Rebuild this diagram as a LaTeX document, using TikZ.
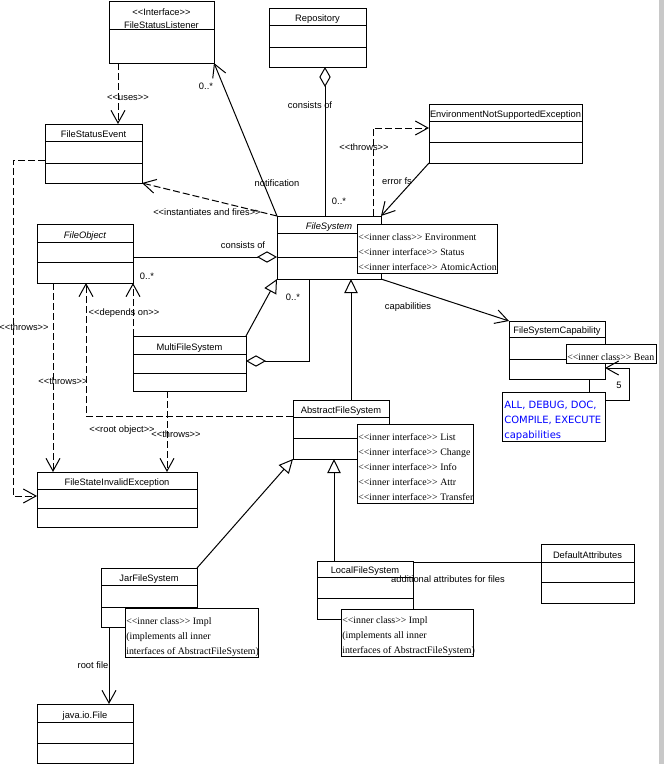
\documentclass[tikz,border=0pt]{standalone}
\usepackage{fontspec}
\newfontfamily\labfont{Liberation Sans}[Ligatures=TeXOff]
\newfontfamily\notefont{Liberation Serif}[Ligatures=TeXOff]
\newfontfamily\capfont{DejaVu Sans}[Ligatures=TeXOff]
\usetikzlibrary{arrows.meta,calc}
\definecolor{strip}{RGB}{200,200,200}
\definecolor{capblue}{RGB}{0,0,255}
\tikzset{
  plain/.style={line width=0.75pt},
  clsbox/.style={draw, fill=white, line width=0.75pt, inner sep=0pt, outer sep=0pt, anchor=north west},
  ctitle/.style={font=\labfont\fontsize{7pt}{8.4pt}\selectfont, inner sep=0pt, anchor=base},
  lbl/.style={font=\labfont\fontsize{7pt}{8.4pt}\selectfont, inner sep=0pt, anchor=base},
  notebox/.style={draw, fill=white, line width=0.75pt, inner sep=0pt, outer sep=0pt, anchor=north west},
  notetext/.style={font=\notefont\fontsize{7.4pt}{11.25pt}\selectfont, inner sep=0pt, anchor=north west, align=left},
  captext/.style={font=\capfont\fontsize{7.5pt}{11.25pt}\selectfont, text=capblue, inner sep=0pt, anchor=north west, align=left},
  assoc/.style={line width=0.75pt, -{Straight Barb[length=9.5pt,width=10.5pt]}},
  dep/.style={assoc, dash pattern=on 5.25pt off 2.25pt},
  gen/.style={line width=0.75pt, -{Triangle[fill=white,length=10.5pt,width=10pt]}},
  agg/.style={line width=0.75pt, {Diamond[fill=white,length=15pt,width=8.5pt]}-},
}
\newcommand\umlclass[8]{%
  \node[clsbox, minimum width={(#4-#2)*0.75pt}, minimum height={(#5-#3)*0.75pt}] (#1) at (#2,#3) {};
  \draw[plain] (#2,#6) -- (#4,#6);
  \draw[plain] (#2,#7) -- (#4,#7);
  \node[ctitle] (#1-t) at ({(#2+#4)/2},{#6-3.3}) {#8};
}
\begin{document}
\begin{tikzpicture}[x=0.75pt,y=-0.75pt]
\fill[white] (0,0) rectangle (664,764);
\useasboundingbox (0,0) rectangle (664,764);
\fill[strip] (659,0) rectangle (664,764);

% ---------- classes ----------
\node[clsbox, minimum width={105*0.75pt}, minimum height={62*0.75pt}] (fsl) at (109,1) {};
\draw[plain] (109,29) -- (214,29);
\node[ctitle] (fsl-s) at (161.5,15.5) {<<Interface>>};
\node[ctitle] (fsl-t) at (161.5,28) {FileStatusListener};

\umlclass{rep}{269}{8}{366}{67}{25}{47}{Repository}
\umlclass{fse}{45}{124}{142}{183}{141}{163}{FileStatusEvent}
\umlclass{ense}{429}{104}{582}{163}{121}{142}{EnvironmentNotSupportedException}
\umlclass{fo}{37}{224}{133}{283}{242}{262}{\itshape FileObject}
\umlclass{fs}{277}{216}{381}{279}{233}{257}{\itshape FileSystem}
\umlclass{mfs}{133}{336}{246}{391}{354}{373}{MultiFileSystem}
\umlclass{fsc}{509}{321}{605}{379}{337}{359}{FileSystemCapability}
\umlclass{afs}{293}{400}{389}{459}{417}{438}{AbstractFileSystem}
\umlclass{fsie}{37}{472}{197}{527}{489}{508}{FileStateInvalidException}
\umlclass{jfs}{101}{568}{197}{627}{585}{607}{JarFileSystem}
\umlclass{lfs}{317}{561}{413}{619}{577}{598}{LocalFileSystem}
\umlclass{da}{541}{544}{634}{603}{562}{582}{DefaultAttributes}
\umlclass{jif}{37}{704}{133}{763}{722}{743}{java.io.File}

% ---------- connector end points ----------
\coordinate (uA) at ($(fsl.south west)+(9,0)$);
\coordinate (rA) at ($(rep.south)+(7.5,0)$);
\coordinate (tA) at ($(fs.north west)+(96,0)$);
\coordinate (eA) at ($(ense.north west)+(0,24)$);
\coordinate (cA) at ($(fo.north east)+(0,33)$);
\coordinate (mA) at ($(mfs.north east)+(0,25)$);
\coordinate (fA) at ($(fs.south west)+(32,0)$);
\coordinate (roA) at ($(afs.north west)+(0,16)$);
\coordinate (roB) at ($(fo.south west)+(49,0)$);
\coordinate (mtA) at ($(mfs.south west)+(34,0)$);
\coordinate (ftA) at ($(fo.south west)+(16,0)$);
\coordinate (feA) at ($(fse.north west)+(0,36)$);
\coordinate (feC) at ($(feA)+(-32,0)$);
\coordinate (feB) at ($(fsie.north west)+(0,24)$);
\coordinate (fcA) at ($(fsc.south west)+(80,0)$);
\coordinate (gA) at ($(afs.north west)+(58,0)$);
\coordinate (lgA) at ($(lfs.north west)+(17,0)$);
\coordinate (daA) at ($(da.north west)+(0,18)$);
\coordinate (rfA) at ($(jfs.south west)+(8,0)$);

% ---------- connectors ----------
\draw[dep] (uA) -- (uA |- fse.north);
\draw[assoc] (fs.north west) -- (fsl.south east);
\draw[dep] (fs.north west) -- (fse.south east);
\draw[agg] (rA) -- (rA |- fs.north);
\draw[dep] (tA) |- (eA);
\draw[assoc] (ense.south west) -- (fs.north east);
\draw[agg] (cA -| fs.west) -- (cA);
\draw[gen] (mfs.north east) -- (fs.south west);
\draw[agg] (mA) -| (fA);
\draw[dep] (mfs.north west) -- (fo.south east);
\draw[dep] (roA) -| (roB);
\draw[dep] (mtA) -- (mtA |- fsie.north);
\draw[dep] (ftA) -- (ftA |- fsie.north);
\draw[dep] (feA) -- (feC) |- (feB);
\draw[assoc] (fs.south east) -- (fsc.north west);
\draw[gen] (gA) -- (gA |- fs.south);
\draw[gen] (jfs.north east) -- (afs.south west);
\draw[gen] (lgA) -- (lgA |- afs.south);
\draw[plain] (daA -| lfs.east) -- (daA);
\draw[assoc] (rfA) -- (rfA |- jif.north);

% ---------- labels ----------
\node[lbl] (l-uses) at (128,100.5) {<<uses>>};
\node[lbl] (l-m1) at (206,89.5) {0..*};
\node[lbl] (l-notif) at (277,186.5) {notification};
\node[lbl] (l-inst) at (207,215.5) {<<instantiates and fires>>};
\node[lbl] (l-cons1) at (310,108.5) {consists of};
\node[lbl] (l-m2) at (339,204) {0..*};
\node[lbl] (l-thr1) at (364,150.5) {<<throws>>};
\node[lbl] (l-err) at (397,184.5) {error fs};
\node[lbl] (l-cons2) at (243,248.5) {consists of};
\node[lbl] (l-m3) at (147,279.5) {0..*};
\node[lbl] (l-m4) at (293,300.5) {0..*};
\node[lbl] (l-dep) at (124,315.5) {<<depends on>>};
\node[lbl] (l-root) at (122,432.5) {<<root object>>};
\node[lbl] (l-thr2) at (176,437.5) {<<throws>>};
\node[lbl] (l-thr3) at (63,384.5) {<<throws>>};
\node[lbl] (l-thr4) at (24,330.5) {<<throws>>};
\node[lbl] (l-caps) at (408,309.5) {capabilities};
\node[lbl] (l-five) at (619,388.5) {5};
\node[lbl] (l-add) at (448,582.5) {additional attributes for files};
\node[lbl] (l-rf) at (93,668.5) {root file};

% ---------- notes ----------
\node[notebox, minimum width={140*0.75pt}, minimum height={49*0.75pt}] (fsn) at (357,224) {};
\node[notetext] (fsn-t) at (358,228) {\rule{0pt}{9pt}<<inner class>> Environment\\<<inner interface>> Status\\<<inner interface>> AtomicAction};

\node[notebox, minimum width={90*0.75pt}, minimum height={19*0.75pt}] (bean) at (566,344) {};
\node[notetext] (bean-t) at (567,348) {\rule{0pt}{9pt}<<inner class>> Bean};

\node[notebox, minimum width={103*0.75pt}, minimum height={49*0.75pt}] (caps) at (502,392) {};
\node[captext] (caps-t) at (504,396) {\rule{0pt}{9pt}ALL, DEBUG, DOC,\\COMPILE, EXECUTE\\capabilities};
\coordinate (lA) at ($(caps.north east)+(0,8)$);
\coordinate (lC) at ($(lA)+(24,0)$);
\coordinate (lB) at ($(fsc.south east)+(0,-11)$);
\draw[plain] (fcA) -- (fcA |- caps.north);
\draw[assoc] (lA) -- (lC) |- (lB);

\node[notebox, minimum width={116*0.75pt}, minimum height={79*0.75pt}] (afsn) at (357,424) {};
\node[notetext] (afsn-t) at (358,428) {\rule{0pt}{9pt}<<inner interface>> List\\<<inner interface>> Change\\<<inner interface>> Info\\<<inner interface>> Attr\\<<inner interface>> Transfer};

\node[notebox, minimum width={133*0.75pt}, minimum height={49*0.75pt}] (jfsn) at (125,608) {};
\node[notetext] (jfsn-t) at (126,612) {\rule{0pt}{9pt}<<inner class>> Impl\\(implements all inner\\interfaces of AbstractFileSystem)};

\node[notebox, minimum width={132*0.75pt}, minimum height={47*0.75pt}] (lfsn) at (341,609) {};
\node[notetext] (lfsn-t) at (342,611) {\rule{0pt}{9pt}<<inner class>> Impl\\(implements all inner\\interfaces of AbstractFileSystem)};
\end{tikzpicture}
\end{document}
